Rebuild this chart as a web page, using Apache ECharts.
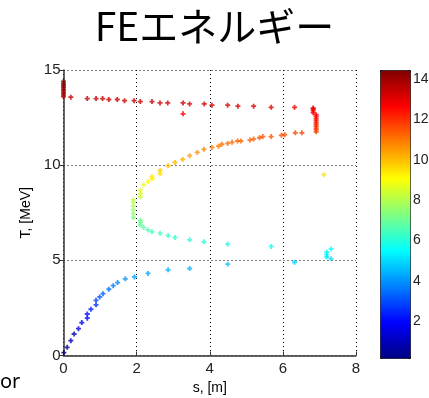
<!DOCTYPE html>
<html>
<head>
<meta charset="utf-8">
<script src="https://cdn.jsdelivr.net/npm/echarts@6/dist/echarts.min.js"></script>
<style>
  html, body { margin: 0; padding: 0; background: #fff; }
  #chart { width: 429px; height: 398px; }
</style>
</head>
<body>
<div id="chart"></div>
<script>
// lower branch (blue -> cyan)
const lowS = [0.01, 0.10, 0.20, 0.29, 0.41, 0.50, 0.65, 0.65, 0.75, 0.89, 0.89, 0.99, 1.08, 1.24, 1.36, 1.48, 1.69, 1.94, 2.31, 2.86, 3.45, 4.49, 6.32, 7.32];
const lowT = [0.15, 0.43, 0.78, 1.13, 1.41, 1.73, 1.96, 2.18, 2.43, 2.66, 2.90, 3.08, 3.25, 3.48, 3.67, 3.83, 4.03, 4.13, 4.31, 4.50, 4.57, 4.80, 4.90, 5.08];

// middle curve (cyan -> green -> yellow -> orange -> red)
const midS = [7.32, 7.20, 7.20, 7.20, 5.68, 4.49, 3.84, 3.45, 3.05, 2.86, 2.64, 2.42, 2.31, 2.19, 2.10, 2.10, 2.10,
  1.91, 1.91, 1.91, 1.91, 1.91, 1.91, 2.10, 2.10, 2.10, 2.19, 2.31, 2.42, 2.42, 2.64, 2.64, 2.86, 3.05, 3.26, 3.45,
  3.66, 3.84, 4.06, 4.24, 4.33, 4.49, 4.61, 4.76, 4.85, 5.10, 5.20, 5.36, 5.45, 5.68, 5.96, 6.05, 6.34, 6.52,
  6.91, 6.91, 6.91, 6.91, 6.91, 6.91, 6.91, 6.91, 6.91, 6.91, 6.83, 6.83, 6.83, 6.83, 7.12];
const midT = [5.60, 5.43, 5.30, 5.17, 5.73, 5.85, 5.97, 6.08, 6.20, 6.30, 6.42, 6.50, 6.60, 6.73, 6.85, 6.98, 7.10,
  7.25, 7.45, 7.65, 7.85, 8.05, 8.18, 8.33, 8.50, 8.68, 8.97, 9.14, 9.28, 9.40, 9.55, 9.72, 9.97, 10.14, 10.30, 10.50,
  10.67, 10.83, 10.93, 11.00, 11.10, 11.14, 11.20, 11.27, 11.27, 11.32, 11.37, 11.44, 11.50, 11.50, 11.57, 11.60, 11.70, 11.70,
  11.75, 11.85, 11.95, 12.05, 12.15, 12.25, 12.35, 12.45, 12.55, 12.65, 12.75, 12.85, 12.95, 13.00, 9.50];

// top branch (dark red / red)
const topS = [0.00, 0.00, 0.00, 0.00, 0.00, 0.00, 0.00, 0.00, 0.00, 0.20, 0.65, 0.89, 1.07, 1.24, 1.47, 1.67, 1.93, 2.10,
  2.42, 2.64, 2.85, 3.27, 3.27, 3.45, 3.85, 4.06, 4.49, 4.77, 5.20, 5.68, 6.32];
const topT = [13.60, 13.70, 13.80, 13.90, 14.00, 14.10, 14.20, 14.30, 14.40, 13.57, 13.50, 13.50, 13.50, 13.45, 13.45, 13.39,
  13.39, 13.34, 13.34, 13.27, 13.27, 13.27, 12.70, 13.22, 13.22, 13.15, 13.15, 13.10, 13.10, 13.04, 13.04];

const colorTicks = [2, 4, 6, 8, 10, 12, 14];
const jet = ['#000080', '#0000ff', '#0080ff', '#00ffff', '#80ff80', '#ffff00', '#ff8000', '#ff0000', '#800000'];
const cMin = 0.17, cMax = 14.45;

const points = [];
[[lowS, lowT], [midS, midT], [topS, topT]].forEach(([s, t]) => {
  s.forEach((v, i) => points.push([v, t[i]]));
});

const chart = echarts.init(document.getElementById('chart'));
const font = 'Liberation Sans';
const plus = 'path://M1.6,0H3.4V1.6H5V3.4H3.4V5H1.6V3.4H0V1.6H1.6Z';

chart.setOption({
  animation: false,
  title: {
    text: 'FEエネルギー',
    left: 'center',
    top: 2,
    textStyle: { fontFamily: 'Noto Sans CJK JP', fontSize: 39, fontWeight: 'normal', color: '#000' }
  },
  graphic: [{
    type: 'text', left: 0, top: 372,
    style: { text: 'or', font: '20px "Noto Sans"', fill: '#000' }
  }],
  grid: [
    { left: 63.5, top: 70, width: 292.5, height: 285.5, outerBoundsMode: 'none' },
    { left: 380, top: 70, width: 30, height: 288, outerBoundsMode: 'none' }
  ],
  xAxis: [{
    gridIndex: 0, type: 'value', min: 0, max: 8, interval: 2,
    name: 's, [m]', nameLocation: 'middle', nameGap: 26,
    nameTextStyle: { fontFamily: font, fontSize: 14, color: '#000' },
    axisLine: { lineStyle: { color: '#333', width: 1.5 } },
    axisTick: { inside: true, length: 4, lineStyle: { color: '#333' } },
    axisLabel: { fontFamily: font, fontSize: 15, color: '#222', margin: 6 },
    splitLine: { show: true, lineStyle: { color: '#000', type: [1, 3], width: 1 } }
  }, {
    gridIndex: 1, type: 'value', min: 0, max: 1, show: false
  }],
  yAxis: [{
    gridIndex: 0, type: 'value', min: 0, max: 15, interval: 5,
    name: 'T, [MeV]', nameLocation: 'middle', nameGap: 23,
    nameTextStyle: { fontFamily: font, fontSize: 14, color: '#000' },
    axisLine: { lineStyle: { color: '#333', width: 1.5 } },
    axisTick: { inside: false, length: 4, lineStyle: { color: '#333' } },
    axisLabel: { fontFamily: font, fontSize: 15, color: '#222', margin: 3 },
    splitLine: { show: true, lineStyle: { color: '#000', type: [1, 3], width: 1 } }
  }, {
    gridIndex: 1, type: 'value', min: cMin, max: cMax, position: 'right',
    axisLine: { show: false },
    axisTick: { show: true, length: 3, customValues: colorTicks, lineStyle: { color: '#000' } },
    axisLabel: { fontFamily: font, fontSize: 14, color: '#222', margin: 3, customValues: colorTicks },
    splitLine: { show: false }
  }],
  visualMap: {
    type: 'continuous',
    seriesIndex: 0,
    dimension: 1,
    min: cMin,
    max: cMax,
    inRange: { color: jet },
    left: 380, top: 70,
    itemWidth: 30, itemHeight: 288,
    padding: 0,
    calculable: false,
    hoverLink: false,
    borderWidth: 1,
    borderColor: '#000'
  },
  series: [{
    type: 'scatter',
    xAxisIndex: 0, yAxisIndex: 0,
    symbol: plus,
    symbolSize: 5,
    data: points
  }]
});
</script>
</body>
</html>
